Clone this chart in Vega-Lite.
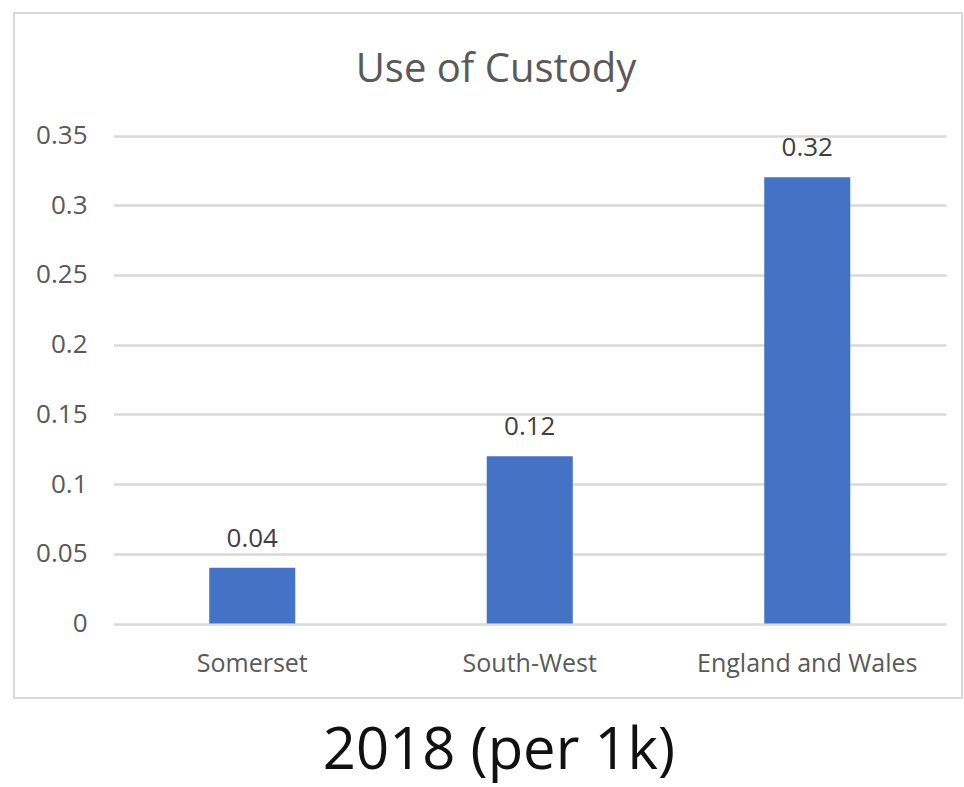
{
  "$schema": "https://vega.github.io/schema/vega-lite/v6.json",
  "width": 948,
  "height": 685,
  "autosize": "none",
  "padding": {"left": 14, "top": 13, "right": 2, "bottom": 89},
  "background": "white",
  "title": {
    "text": "Use of Custody",
    "anchor": "middle",
    "frame": "group",
    "offset": -109,
    "baseline": "alphabetic",
    "fontSize": 40,
    "font": "Open Sans",
    "fontWeight": "normal",
    "color": "#595959",
    "dx": 8
  },
  "data": {
    "values": [
      {"region": "Somerset", "value": 0.04},
      {"region": "South-West", "value": 0.12},
      {"region": "England and Wales", "value": 0.32}
    ]
  },
  "encoding": {
    "x": {
      "field": "region",
      "type": "nominal",
      "sort": null,
      "scale": {"range": [99.5, 932], "paddingInner": 0.69, "paddingOuter": 0.345},
      "axis": {
        "title": "2018 (per 1k)",
        "labelAngle": 0,
        "domain": false,
        "ticks": false,
        "tickSize": 0,
        "labelPadding": 0,
        "labelBaseline": "top",
        "labelLimit": 0,
        "offset": -47,
        "labelFont": "Open Sans",
        "labelFontSize": 25,
        "labelColor": "#595959",
        "titleFont": "Open Sans",
        "titleFontSize": 58,
        "titleFontWeight": "normal",
        "titleColor": "#111111",
        "titleX": 484.5,
        "titleY": 117,
        "titleAlign": "center",
        "titleBaseline": "alphabetic",
        "titleLimit": 0,
        "grid": false
      }
    },
    "y": {
      "field": "value",
      "type": "quantitative",
      "scale": {"domain": [0, 0.35], "range": [610.5, 122.5], "nice": false, "zero": true},
      "axis": {
        "title": null,
        "values": [0, 0.05, 0.1, 0.15, 0.2, 0.25, 0.3, 0.35],
        "format": ".2~f",
        "domain": false,
        "ticks": false,
        "tickSize": 0,
        "labelPadding": 0,
        "offset": -73,
        "labelFont": "Open Sans",
        "labelFontSize": 26,
        "labelColor": "#595959",
        "grid": true,
        "gridColor": "#d9d9d9",
        "gridWidth": 2.5
      }
    }
  },
  "layer": [
    {"mark": {"type": "bar", "color": "#4472C4"}},
    {
      "mark": {"type": "text", "dy": -21, "baseline": "alphabetic", "font": "Open Sans", "fontSize": 26, "color": "#404040"},
      "encoding": {"text": {"field": "value", "type": "quantitative", "format": ".2f"}}
    }
  ],
  "config": {"view": {"stroke": "#d9d9d9", "strokeWidth": 2}}
}
